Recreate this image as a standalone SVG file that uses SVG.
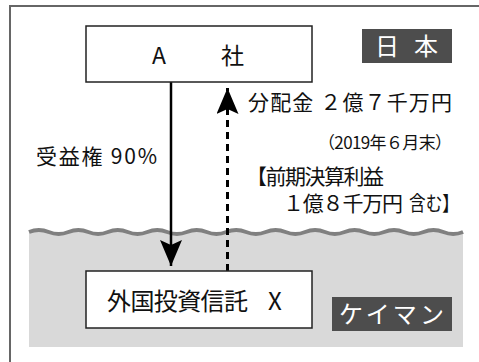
<svg xmlns="http://www.w3.org/2000/svg" width="479" height="362" viewBox="0 0 479 362">
<style>
text{font-family:"Noto Sans CJK JP","Noto Sans",sans-serif;fill:#111}
.box{fill:#fff;stroke:#222;stroke-width:1.5}
.tag{fill:#4d4d4d}
.tagt{fill:#fff}
</style>
<defs>
<marker id="ah" markerWidth="26" markerHeight="22" refX="26" refY="11" orient="auto" markerUnits="userSpaceOnUse" viewBox="0 0 26 22">
<path d="M0,0 L26,11 L0,22 L5,11 Z" fill="#000"/>
</marker>
</defs>
<rect width="479" height="362" fill="#fff"/>
<rect x="10" y="6" width="480" height="370" fill="none" stroke="#666" stroke-width="2"/>
<g id="sea">
<rect x="29" y="232" width="434" height="115" fill="#d9d9d9"/>
<path d="M29,232 q9.86,-4 19.73,0 t19.73,0 t19.73,0 t19.73,0 t19.73,0 t19.73,0 t19.73,0 t19.73,0 t19.73,0 t19.73,0 t19.73,0 t19.73,0 t19.73,0 t19.73,0 t19.73,0 t19.73,0 t19.73,0 t19.73,0 t19.73,0 t19.73,0 t19.73,0 t19.73,0" fill="none" stroke="#808080" stroke-width="4"/>
</g>
<g id="connectors">
<line x1="171" y1="82" x2="171" y2="266" stroke="#000" stroke-width="2.5" marker-end="url(#ah)"/>
<line x1="227.5" y1="271" x2="227.5" y2="88" stroke="#000" stroke-width="3" stroke-dasharray="7,5" marker-end="url(#ah)"/>
</g>
<g id="nodeA">
<rect class="box" x="86" y="26" width="226" height="56"/>
<text x="152" y="64" font-size="23">A</text>
<text x="221" y="64" font-size="23">社</text>
</g>
<g id="nodeX">
<rect class="box" x="86" y="271" width="226" height="57"/>
<text x="107" y="310" font-size="24" textLength="141">外国投資信託</text>
<text x="268" y="310" font-size="24">X</text>
</g>
<g id="japan">
<rect class="tag" x="362" y="29" width="90" height="34"/>
<text class="tagt" x="375" y="55" font-size="24">日</text>
<text class="tagt" x="414" y="55" font-size="24">本</text>
</g>
<g id="cayman">
<rect class="tag" x="332" y="297" width="120" height="34"/>
<text class="tagt" x="339" y="323" font-size="24" textLength="105">ケイマン</text>
</g>
<g id="labels">
<text x="248" y="110" font-size="21" textLength="204">分配金 ２億７千万円</text>
<text x="318" y="149" font-size="17" textLength="134">（2019年６月末）</text>
<text x="36" y="164" font-size="21" textLength="121">受益権 90%</text>
<text x="246" y="184" font-size="21" textLength="138">【前期決算利益</text>
<text x="283" y="211" font-size="21" textLength="120">１億８千万円</text>
<text x="409" y="211" font-size="20" textLength="50" lengthAdjust="spacingAndGlyphs">含む】</text>
</g>
</svg>
